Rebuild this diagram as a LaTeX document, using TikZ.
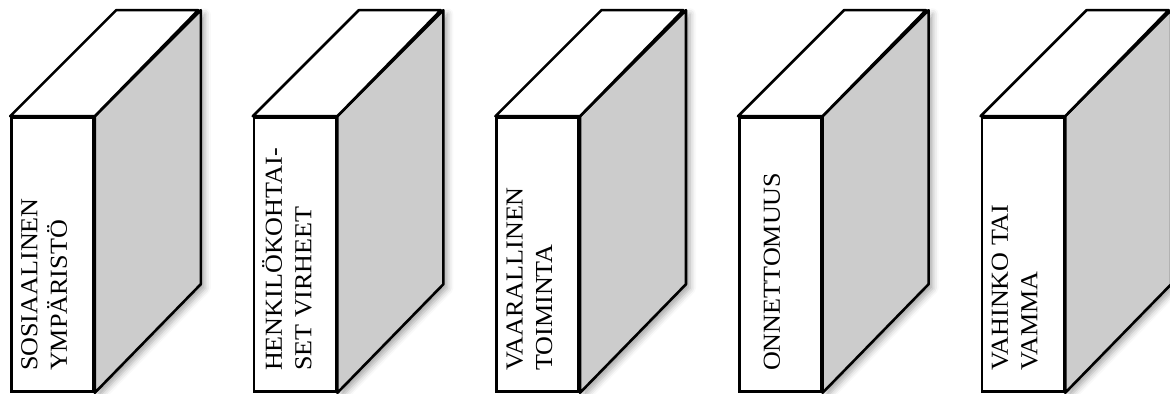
\documentclass[tikz,border=0pt]{standalone}
\usepackage{fontspec}
\setmainfont{Liberation Serif}
\newfontfamily\spinefont[FakeStretch=1.07]{Liberation Serif}
\usetikzlibrary{positioning,shadows.blur}
\definecolor{sidegray}{HTML}{CCCCCC}

\begin{document}
\begin{tikzpicture}[x=0.5pt,y=0.5pt,node distance=79pt]
  \tikzset{frontface/.style={draw, line width=1.3pt, fill=white, minimum width=41pt, minimum height=137pt, inner sep=0pt},
    sideface/.style={draw, line width=1.3pt, fill=sidegray, line join=round, blur shadow={shadow xshift=2pt, shadow yshift=-2pt, shadow blur radius=3pt, shadow opacity=35}},
    topface/.style={draw, line width=1.3pt, fill=white, line join=round},
    spine/.style={rotate=90, anchor=west, align=left, inner sep=0pt, font=\spinefont\fontsize{12.2}{14.75}\selectfont}}
  \useasboundingbox (0,0) rectangle (1170,394);
  % front faces
  \node[frontface] (f1) at (52.5,139.5) {};
  \node[frontface, right=of f1] (f2) {};
  \node[frontface, right=of f2] (f3) {};
  \node[frontface, right=of f3] (f4) {};
  \node[frontface, right=of f4] (f5) {};
  % sides and tops
  \draw[sideface] (f1.north east) -- ++(53pt,53pt) -- ++(0,-137pt) -- (f1.south east) -- cycle;
  \draw[topface] (f1.north west) -- ++(53pt,53pt) -- ++(41pt,0) -- (f1.north east) -- cycle;
  \draw[sideface] (f2.north east) -- ++(53pt,53pt) -- ++(0,-137pt) -- (f2.south east) -- cycle;
  \draw[topface] (f2.north west) -- ++(53pt,53pt) -- ++(41pt,0) -- (f2.north east) -- cycle;
  \draw[sideface] (f3.north east) -- ++(53pt,53pt) -- ++(0,-137pt) -- (f3.south east) -- cycle;
  \draw[topface] (f3.north west) -- ++(53pt,53pt) -- ++(41pt,0) -- (f3.north east) -- cycle;
  \draw[sideface] (f4.north east) -- ++(53pt,53pt) -- ++(0,-137pt) -- (f4.south east) -- cycle;
  \draw[topface] (f4.north west) -- ++(53pt,53pt) -- ++(41pt,0) -- (f4.north east) -- cycle;
  \draw[sideface] (f5.north east) -- ++(53pt,53pt) -- ++(0,-137pt) -- (f5.south east) -- cycle;
  \draw[topface] (f5.north west) -- ++(53pt,53pt) -- ++(41pt,0) -- (f5.north east) -- cycle;
  % labels
  \node[spine] (t1) at ([shift={(17pt,10.75pt)}]f1.south west) {SOSIAALINEN\\YMPÄRISTÖ};
  \node[spine] (t2) at ([shift={(17pt,10.75pt)}]f2.south west) {HENKILÖKOHTAI-\\SET VIRHEET};
  \node[spine] (t3) at ([shift={(17pt,10.75pt)}]f3.south west) {VAARALLINEN\\TOIMINTA};
  \node[spine] (t4) at ([shift={(17pt,10.75pt)}]f4.south west) {ONNETTOMUUS};
  \node[spine] (t5) at ([shift={(17pt,10.75pt)}]f5.south west) {VAHINKO TAI\\VAMMA};
\end{tikzpicture}
\end{document}
